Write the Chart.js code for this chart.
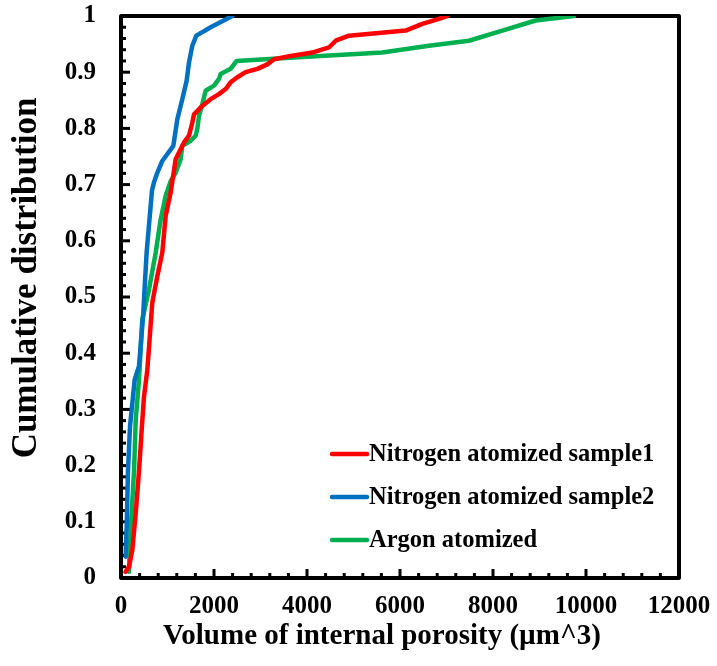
<!DOCTYPE html>
<html>
<head>
<meta charset="utf-8">
<script src="https://cdn.jsdelivr.net/npm/chart.js@4.4.1/dist/chart.umd.min.js"></script>
<style>
  html, body { margin: 0; padding: 0; background: #fff; }
  #wrap { width: 717px; height: 666px; }
</style>
</head>
<body>
<div id="wrap"><canvas id="chart" width="717" height="666"></canvas></div>
<script>
// values
const sample1Volume = [100, 172, 244, 316, 387, 458, 495, 566, 673, 781, 888, 960, 1068, 1104, 1175, 1355, 1462, 1533, 1570, 1748, 1928, 2107, 2250, 2358, 2502, 2680, 2932, 3146, 3290, 3650, 4114, 4472, 4616, 4902, 6122, 6480, 6837, 7017];
const sample1Cum = [0.011, 0.02, 0.05, 0.115, 0.19, 0.28, 0.323, 0.37, 0.49, 0.537, 0.579, 0.644, 0.686, 0.706, 0.745, 0.775, 0.787, 0.81, 0.825, 0.84, 0.852, 0.861, 0.87, 0.882, 0.891, 0.9, 0.906, 0.914, 0.923, 0.929, 0.935, 0.944, 0.956, 0.965, 0.974, 0.986, 0.995, 1.0];

const sample2Volume = [100, 122, 150, 194, 294, 387, 480, 510, 552, 667, 710, 781, 888, 1125, 1211, 1318, 1412, 1462, 1533, 1620, 1928, 2394];
const sample2Cum = [0.038, 0.09, 0.19, 0.27, 0.353, 0.377, 0.472, 0.519, 0.58, 0.69, 0.704, 0.721, 0.742, 0.769, 0.816, 0.852, 0.885, 0.917, 0.947, 0.965, 0.98, 1.0];

const argonVolume = [172, 208, 280, 316, 387, 458, 602, 746, 853, 960, 1068, 1175, 1283, 1318, 1498, 1605, 1641, 1677, 1748, 1820, 2000, 2107, 2143, 2358, 2430, 2487, 3720, 5620, 6622, 7483, 8200, 8917, 9740];
const argonCum = [0.011, 0.086, 0.19, 0.28, 0.353, 0.46, 0.513, 0.579, 0.638, 0.68, 0.706, 0.721, 0.745, 0.769, 0.778, 0.787, 0.799, 0.822, 0.843, 0.867, 0.876, 0.888, 0.897, 0.906, 0.914, 0.92, 0.926, 0.935, 0.947, 0.956, 0.974, 0.992, 1.0];

const seriesNames = ['Nitrogen atomized sample1', 'Nitrogen atomized sample2', 'Argon atomized'];
const seriesColors = ['#ff0000', '#0070c0', '#00b050'];

const xTitle = 'Volume of internal porosity (µm^3)';
const yTitle = 'Cumulative distribution';

const xMax = 12000, xStep = 2000, xMinorStep = 400;
const yMax = 1, yStep = 0.1, yMinorStep = 0.02;

const serif = "'Liberation Serif', 'Times New Roman', serif";

function toPoints(xs, ys) {
  return xs.map((x, i) => ({ x: x, y: ys[i] }));
}

// frame, inward tick marks, axis titles and the legend
const frameTicks = {
  id: 'frameTicks',
  beforeDatasetsDraw(chart) {
    const { ctx, chartArea: a, scales } = chart;
    ctx.save();
    ctx.strokeStyle = '#000';
    ctx.lineWidth = 3;
    ctx.lineCap = 'butt';
    const nx = Math.round(xMax / xMinorStep);
    for (let i = 1; i < nx; i++) {
      const v = i * xMinorStep;
      const px = scales.x.getPixelForValue(v);
      const len = (v % xStep === 0) ? 9 : 5;
      ctx.beginPath();
      ctx.moveTo(px, a.bottom);
      ctx.lineTo(px, a.bottom - len);
      ctx.stroke();
    }
    const ny = Math.round(yMax / yMinorStep);
    for (let i = 1; i < ny; i++) {
      const py = scales.y.getPixelForValue(i * yMinorStep);
      const len = (i % 5 === 0) ? 9 : 5;
      ctx.beginPath();
      ctx.moveTo(a.left, py);
      ctx.lineTo(a.left + len, py);
      ctx.stroke();
    }
    ctx.lineWidth = 4;
    ctx.lineJoin = 'round';
    ctx.strokeRect(a.left, a.top, a.right - a.left, a.bottom - a.top);
    ctx.restore();
  },
  afterDraw(chart) {
    const { ctx } = chart;
    ctx.save();
    ctx.fillStyle = '#000';
    ctx.textAlign = 'center';
    ctx.textBaseline = 'middle';

    ctx.font = 'bold 29px ' + serif;
    ctx.fillText(xTitle, 382, 637);

    ctx.save();
    ctx.translate(27, 278);
    ctx.rotate(-Math.PI / 2);
    ctx.font = 'bold 35px ' + serif;
    ctx.fillText(yTitle, 0, 0);
    ctx.restore();

    const rows = [454, 497, 540];
    ctx.font = 'bold 24.5px ' + serif;
    ctx.textAlign = 'left';
    chart.data.datasets.forEach((ds, i) => {
      ctx.strokeStyle = ds.borderColor;
      ctx.lineWidth = 4.5;
      ctx.lineCap = 'round';
      ctx.beginPath();
      ctx.moveTo(332, rows[i]);
      ctx.lineTo(367, rows[i]);
      ctx.stroke();
      ctx.fillText(ds.label, 369, rows[i] + 1);
    });
    ctx.restore();
  }
};

new Chart(document.getElementById('chart'), {
  type: 'line',
  data: {
    datasets: [
      { label: seriesNames[0], data: toPoints(sample1Volume, sample1Cum), borderColor: seriesColors[0] },
      { label: seriesNames[1], data: toPoints(sample2Volume, sample2Cum), borderColor: seriesColors[1] },
      { label: seriesNames[2], data: toPoints(argonVolume, argonCum), borderColor: seriesColors[2] }
    ]
  },
  options: {
    responsive: false,
    animation: false,
    layout: { padding: { top: 16, right: 38, left: 0, bottom: 0 } },
    elements: {
      line: { borderWidth: 4.5, tension: 0, borderJoinStyle: 'round', borderCapStyle: 'round', fill: false },
      point: { radius: 0 }
    },
    plugins: {
      legend: { display: false },
      tooltip: { enabled: false }
    },
    scales: {
      x: {
        type: 'linear',
        min: 0,
        max: xMax,
        afterFit(s) {
          s.height = 88;
          s.paddingLeft = 0;
          s.paddingRight = 0;
        },
        grid: { display: false, drawTicks: false },
        border: { display: false },
        ticks: {
          stepSize: xStep,
          padding: 14,
          color: '#000',
          font: { family: serif, size: 25, weight: 'bold' },
          maxRotation: 0,
          callback: v => String(v)
        }
      },
      y: {
        type: 'linear',
        min: 0,
        max: yMax,
        afterFit(s) {
          s.width = 121;
          s.paddingTop = 0;
          s.paddingBottom = 0;
        },
        grid: { display: false, drawTicks: false },
        border: { display: false },
        ticks: {
          stepSize: yStep,
          padding: 25,
          color: '#000',
          font: { family: serif, size: 25, weight: 'bold' },
          callback: v => String(Math.round(v * 10) / 10)
        }
      }
    }
  },
  plugins: [frameTicks]
});
</script>
</body>
</html>
